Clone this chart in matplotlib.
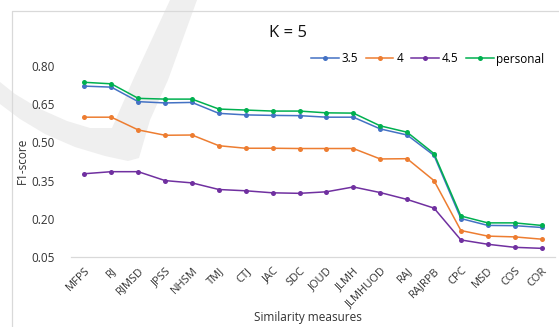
import matplotlib
matplotlib.use("Agg")
import matplotlib.pyplot as plt
import matplotlib.transforms as mtransforms
from matplotlib.patches import Polygon
from matplotlib.lines import Line2D

plt.rcParams['font.family'] = ['Open Sans', 'DejaVu Sans']

measures = ["MFPS", "RJ", "RJMSD", "JPSS", "NHSM", "TMJ", "CTJ", "JAC", "SDC",
            "JOUD", "JLMH", "JLMHUOD", "RAJ", "RAJRPB", "CPC", "MSD", "COS", "COR"]

f1_35 = [0.721, 0.717, 0.660, 0.655, 0.657, 0.614, 0.608, 0.606, 0.605,
         0.599, 0.599, 0.553, 0.529, 0.449, 0.201, 0.174, 0.173, 0.166]
f1_4 = [0.599, 0.599, 0.549, 0.528, 0.529, 0.487, 0.477, 0.477, 0.476,
        0.476, 0.476, 0.435, 0.436, 0.350, 0.154, 0.132, 0.129, 0.120]
f1_45 = [0.377, 0.385, 0.385, 0.350, 0.341, 0.315, 0.310, 0.302, 0.300,
         0.306, 0.325, 0.303, 0.276, 0.242, 0.117, 0.100, 0.088, 0.084]
f1_personal = [0.736, 0.730, 0.673, 0.670, 0.670, 0.631, 0.627, 0.623, 0.623,
               0.616, 0.615, 0.565, 0.540, 0.456, 0.211, 0.184, 0.184, 0.174]

series = [("3.5", f1_35, "#4472C4"),
          ("4", f1_4, "#ED7D31"),
          ("4.5", f1_45, "#7030A0"),
          ("personal", f1_personal, "#00B050")]

yticks = [0.05, 0.20, 0.35, 0.50, 0.65, 0.80]

W, H = 559, 327
fig = plt.figure(figsize=(W / 100, H / 100), dpi=100)

# faint background check-mark shape (pixel coordinates, y measured from top)
mark = [(170, 0), (197, 0), (168, 80), (150, 120), (139, 158), (128, 161),
        (105, 156), (75, 147), (45, 134), (20, 119), (0, 104),
        (0, 82), (15, 94), (40, 109), (67, 121), (90, 128), (112, 128),
        (133, 80)]
fig.patches.append(Polygon([(x / W, 1 - y / H) for x, y in mark], closed=True,
                           transform=fig.transFigure, facecolor="#efefef",
                           edgecolor="none", zorder=0))

# chart area border (left and top edges)
fig.lines.append(Line2D([12 / W, 12 / W, 1.0], [0.0, 1 - 10.5 / H, 1 - 10.5 / H],
                        transform=fig.transFigure, color="#d9d9d9", lw=0.9, zorder=1))

ax = fig.add_axes([71 / W, 1 - 257 / H, (555 - 71) / W, (257 - 66) / H])
ax.patch.set_alpha(0)
ax.set_zorder(2)

x = list(range(len(measures)))
for name, vals, col in series:
    ax.plot(x, vals, color=col, lw=1.1, marker="o", markersize=3.6,
            markeredgewidth=0, label=name)

ax.set_xlim(-0.5, len(measures) - 0.5)
ax.set_ylim(0.05, 0.80)
ax.set_yticks(yticks)
ax.set_yticklabels([f"{v:.2f}" for v in yticks], fontsize=8.5, color="#333333")
ax.set_xticks(x)
ax.set_xticklabels(measures, rotation=45, ha="right", va="top",
                   rotation_mode="anchor", fontsize=8, color="#333333")
shift = mtransforms.ScaledTranslation(3 / 100, 0, fig.dpi_scale_trans)
for lbl in ax.get_xticklabels():
    lbl.set_transform(lbl.get_transform() + shift)
ax.tick_params(axis="both", length=0)
ax.tick_params(axis="y", pad=12)
ax.tick_params(axis="x", pad=6)

for s in ["top", "right", "left"]:
    ax.spines[s].set_visible(False)
ax.spines["bottom"].set_color("#d9d9d9")
ax.spines["bottom"].set_linewidth(0.9)

fig.text(288 / W, 1 - 33 / H, "K = 5", ha="center", va="center",
         fontsize=12, color="#111111")
fig.text(308 / W, 1 - 317 / H, "Similarity measures", ha="center", va="center",
         fontsize=8.5, color="#333333")
fig.text(22 / W, 1 - 161 / H, "F1-score", ha="center", va="center",
         rotation=90, fontsize=8.5, color="#333333")

ax.legend(loc="center", bbox_to_anchor=(428 / W, 1 - 59 / H),
          bbox_transform=fig.transFigure, ncol=4, frameon=False,
          fontsize=8.5, handlelength=2.3, handletextpad=0.25,
          columnspacing=0.7, borderaxespad=0)

fig.savefig("out.png", dpi=100)
